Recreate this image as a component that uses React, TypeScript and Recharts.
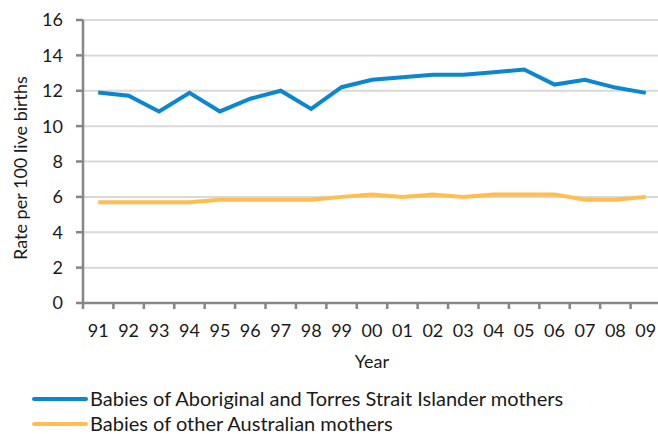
import { CartesianGrid, Legend, Line, LineChart, XAxis, YAxis } from "recharts";

const years = ["91", "92", "93", "94", "95", "96", "97", "98", "99", "00", "01", "02", "03", "04", "05", "06", "07", "08", "09"];
const indigenous = [11.9, 11.72, 10.83, 11.88, 10.83, 11.55, 12.0, 10.97, 12.2, 12.62, 12.76, 12.9, 12.9, 13.05, 13.2, 12.35, 12.62, 12.18, 11.88];
const nonIndigenous = [5.7, 5.7, 5.7, 5.7, 5.84, 5.84, 5.84, 5.84, 6.0, 6.14, 6.0, 6.14, 6.0, 6.14, 6.14, 6.14, 5.84, 5.84, 6.0];
const yTicks = [0, 2, 4, 6, 8, 10, 12, 14, 16];

const seriesNames = {
  indigenous: "Babies of Aboriginal and Torres Strait Islander mothers",
  other: "Babies of other Australian mothers",
};

const data = years.map((year, i) => ({
  year,
  indigenous: indigenous[i],
  other: nonIndigenous[i],
}));

const W = 658;
const H = 434;
const LEFT = 83;
const RIGHT = -3;
const PLOT_W = W - LEFT - RIGHT;
const BAND = PLOT_W / years.length;
const FONT = "Lato, 'Open Sans', sans-serif";
const TEXT = "#1a1a1a";
const AXIS = "#868686";
const X_TICK = 6;
const X_MARGIN = 15;

function YearTick(props: any) {
  const { x, y, payload, index } = props;
  const top = y - X_TICK - X_MARGIN;
  return (
    <g>
      <line x1={x - BAND / 2} x2={x - BAND / 2} y1={top} y2={top + X_TICK} stroke={AXIS} strokeWidth={2.5} />
      {index === years.length - 1 && (
        <line x1={x + BAND / 2} x2={x + BAND / 2} y1={top} y2={top + X_TICK} stroke={AXIS} strokeWidth={2.5} />
      )}
      <text x={x} y={y} dy="0.71em" textAnchor="middle" fill={TEXT} fontSize={18} fontFamily={FONT}>
        {payload.value}
      </text>
    </g>
  );
}

// y labels: right edge sits ~20px left of the axis line
function RateTick(props: any) {
  const { y, payload } = props;
  return (
    <g>
      <line x1={LEFT - 7} x2={LEFT} y1={y} y2={y} stroke={AXIS} strokeWidth={2.5} />
      <text x={LEFT - 20} y={y} dy="0.355em" textAnchor="end" fill={TEXT} fontSize={18} fontFamily={FONT}>
        {payload.value}
      </text>
    </g>
  );
}

function LegendBox(props: any) {
  const items = props.payload || [];
  return (
    <div style={{ height: 48, fontFamily: FONT, fontSize: 20, color: TEXT }}>
      {items.map((item: any) => (
        <div key={item.value} style={{ display: "flex", alignItems: "center", height: 25, lineHeight: "25px" }}>
          <span style={{ display: "inline-block", marginLeft: 32, width: 56, height: 4, borderRadius: 2, background: item.color }} />
          <span style={{ marginLeft: 2, whiteSpace: "nowrap" }}>{item.value}</span>
        </div>
      ))}
    </div>
  );
}

export default function App() {
  return (
    <div style={{ position: "absolute", left: 0, top: 0, width: W, height: H, background: "#fff" }}>
      <LineChart width={W} height={H} data={data} margin={{ top: 20, right: RIGHT, bottom: 0, left: 0 }}>
        <CartesianGrid vertical={false} stroke="#d9d9d9" strokeWidth={2} />
        <XAxis
          dataKey="year"
          height={83}
          padding={{ left: BAND / 2, right: BAND / 2 }}
          stroke={AXIS}
          strokeWidth={2.5}
          tickLine={false}
          tickSize={X_TICK}
          tickMargin={X_MARGIN}
          interval={0}
          tick={<YearTick />}
          label={{ value: "Year", position: "insideTop", offset: 52, fill: TEXT, fontSize: 18, fontFamily: FONT }}
        />
        <YAxis
          width={LEFT}
          domain={[0, 16]}
          ticks={yTicks}
          interval={0}
          stroke={AXIS}
          strokeWidth={2.5}
          tickLine={false}
          tick={<RateTick />}
          label={{
            content: () => (
              <text
                x={20}
                y={168}
                transform="rotate(-90 20 168)"
                textAnchor="middle"
                dominantBaseline="central"
                fill={TEXT}
                fontSize={18}
                fontFamily={FONT}
              >
                Rate per 100 live births
              </text>
            ),
          }}
        />
        <Legend verticalAlign="bottom" align="left" layout="horizontal" content={<LegendBox />} wrapperStyle={{ left: 0, width: W }} />
        <Line
          type="linear"
          dataKey="indigenous"
          name={seriesNames.indigenous}
          stroke="#0b86d0"
          strokeWidth={4}
          dot={false}
          activeDot={false}
          isAnimationActive={false}
        />
        <Line
          type="linear"
          dataKey="other"
          name={seriesNames.other}
          stroke="#ffbe4f"
          strokeWidth={4}
          dot={false}
          activeDot={false}
          isAnimationActive={false}
        />
      </LineChart>
    </div>
  );
}
